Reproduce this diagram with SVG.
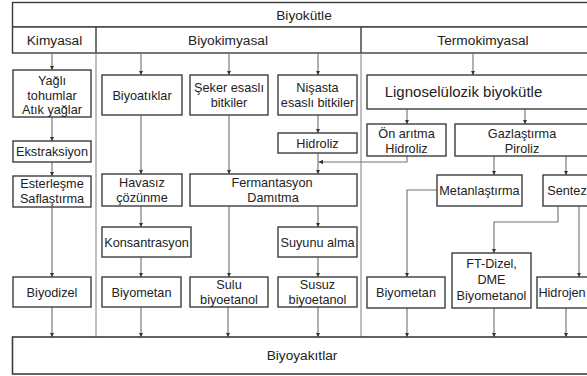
<svg xmlns="http://www.w3.org/2000/svg" width="587" height="376" viewBox="0 0 587 376">
<style>
.b{fill:#fff;stroke:#3c3c3c;stroke-width:1.4}
.t{font-family:"Liberation Sans",Arial,sans-serif;font-size:12.7px;fill:#222;text-anchor:middle}
.h{font-size:13.7px}
.c{fill:none;stroke:#707070;stroke-width:1.1}
.d{fill:none;stroke:#8a8a8a;stroke-width:1.1}
</style>
<defs>
<marker id="a" viewBox="0 0 6 6" refX="6" refY="3" markerWidth="4.5" markerHeight="4.5" orient="auto" markerUnits="userSpaceOnUse">
<path d="M0,0 L6,3 L0,6 Z" fill="#333"/>
</marker>
</defs>
<rect width="587" height="376" fill="#fff"/>
<g id="header">
<rect class="b" x="12.5" y="2.5" width="600" height="24.5"/>
<text class="t h" x="304" y="19.5">Biyokütle</text>
<rect class="b" x="12.5" y="27" width="600" height="26"/>
<line class="b" x1="96" y1="27" x2="96" y2="53"/>
<line class="b" x1="361" y1="27" x2="361" y2="53"/>
<text class="t h" x="54.5" y="45">Kimyasal</text>
<text class="t h" x="228" y="45">Biyokimyasal</text>
<text class="t h" x="483" y="45">Termokimyasal</text>
</g>
<g id="dividers">
<line class="d" x1="96" y1="53" x2="96" y2="337"/>
<line class="d" x1="361" y1="53" x2="361" y2="337"/>
</g>
<g id="connectors">
<line class="c" x1="52" y1="53" x2="52" y2="70" marker-end="url(#a)"/>
<line class="c" x1="141" y1="53" x2="141" y2="75" marker-end="url(#a)"/>
<line class="c" x1="229" y1="53" x2="229" y2="75" marker-end="url(#a)"/>
<line class="c" x1="318" y1="53" x2="318" y2="75" marker-end="url(#a)"/>
<line class="c" x1="473" y1="53" x2="473" y2="75" marker-end="url(#a)"/>
<line class="c" x1="52" y1="117" x2="52" y2="141" marker-end="url(#a)"/>
<line class="c" x1="52" y1="162" x2="52" y2="176" marker-end="url(#a)"/>
<line class="c" x1="52" y1="207" x2="52" y2="277" marker-end="url(#a)"/>
<line class="c" x1="141" y1="115" x2="141" y2="174" marker-end="url(#a)"/>
<line class="c" x1="141" y1="206" x2="141" y2="227" marker-end="url(#a)"/>
<line class="c" x1="141" y1="257" x2="141" y2="277" marker-end="url(#a)"/>
<line class="c" x1="229" y1="115" x2="229" y2="174" marker-end="url(#a)"/>
<line class="c" x1="229" y1="206" x2="229" y2="277" marker-end="url(#a)"/>
<line class="c" x1="318" y1="115" x2="318" y2="133" marker-end="url(#a)"/>
<line class="c" x1="318" y1="153" x2="318" y2="174" marker-end="url(#a)"/>
<polyline class="c" points="407,156 407,162 318.5,162" marker-end="url(#a)"/>
<line class="c" x1="318" y1="206" x2="318" y2="227" marker-end="url(#a)"/>
<line class="c" x1="318" y1="257" x2="318" y2="277" marker-end="url(#a)"/>
<line class="c" x1="407" y1="109" x2="407" y2="124" marker-end="url(#a)"/>
<line class="c" x1="525" y1="109" x2="525" y2="124" marker-end="url(#a)"/>
<line class="c" x1="494" y1="156" x2="494" y2="175" marker-end="url(#a)"/>
<line class="c" x1="566" y1="156" x2="566" y2="175" marker-end="url(#a)"/>
<polyline class="c" points="437,190 407,190 407,277" marker-end="url(#a)"/>
<polyline class="c" points="558,206 558,222 494,222 494,253" marker-end="url(#a)"/>
<line class="c" x1="579" y1="206" x2="579" y2="277" marker-end="url(#a)"/>
<line class="c" x1="52" y1="307" x2="52" y2="337" marker-end="url(#a)"/>
<line class="c" x1="141" y1="307" x2="141" y2="337" marker-end="url(#a)"/>
<line class="c" x1="228" y1="307" x2="228" y2="337" marker-end="url(#a)"/>
<line class="c" x1="318" y1="307" x2="318" y2="337" marker-end="url(#a)"/>
<line class="c" x1="407" y1="308" x2="407" y2="337" marker-end="url(#a)"/>
<line class="c" x1="494" y1="308" x2="494" y2="337" marker-end="url(#a)"/>
<line class="c" x1="566" y1="308" x2="566" y2="337" marker-end="url(#a)"/>
</g>
<g id="yagli"><rect class="b" x="13" y="70" width="78" height="47"/><text class="t" x="52" y="84.5">Yağlı</text><text class="t" x="52" y="99.5">tohumlar</text><text class="t" x="52" y="114">Atık yağlar</text></g>
<g id="ekstraksiyon"><rect class="b" x="13" y="141" width="78" height="21"/><text class="t" x="52" y="156">Ekstraksiyon</text></g>
<g id="esterlesme"><rect class="b" x="13" y="176" width="78" height="31"/><text class="t" x="52" y="187.5">Esterleşme</text><text class="t" x="52" y="203">Saflaştırma</text></g>
<g id="biyodizel"><rect class="b" x="13" y="277" width="78" height="30"/><text class="t" x="52" y="296.5">Biyodizel</text></g>
<g id="biyoatiklar"><rect class="b" x="102" y="75" width="80" height="40"/><text class="t" x="142" y="99.5">Biyoatıklar</text></g>
<g id="seker"><rect class="b" x="190" y="75" width="78" height="40"/><text class="t" x="229" y="92">Şeker esaslı</text><text class="t" x="229" y="107">bitkiler</text></g>
<g id="nisasta"><rect class="b" x="278" y="75" width="79" height="40"/><text class="t" x="317.5" y="92">Nişasta</text><text class="t" x="317.5" y="107">esaslı bitkiler</text></g>
<g id="hidroliz"><rect class="b" x="278" y="133" width="79" height="20"/><text class="t" x="317.5" y="147.5">Hidroliz</text></g>
<g id="havasiz"><rect class="b" x="102" y="174" width="80" height="32"/><text class="t" x="142" y="187">Havasız</text><text class="t" x="142" y="202">çözünme</text></g>
<g id="fermantasyon"><rect class="b" x="190" y="174" width="167" height="32"/><text class="t" x="272" y="187">Fermantasyon</text><text class="t" x="273" y="202">Damıtma</text></g>
<g id="konsantrasyon"><rect class="b" x="102" y="227" width="89" height="30"/><text class="t" x="146.5" y="246.5">Konsantrasyon</text></g>
<g id="suyunu"><rect class="b" x="278" y="227" width="79" height="30"/><text class="t" x="317.5" y="246.5">Suyunu alma</text></g>
<g id="biyometan1"><rect class="b" x="102" y="277" width="79" height="30"/><text class="t" x="141.5" y="296.5">Biyometan</text></g>
<g id="sulu"><rect class="b" x="190" y="277" width="78" height="30"/><text class="t" x="229" y="288.5">Sulu</text><text class="t" x="229" y="303.5">biyoetanol</text></g>
<g id="susuz"><rect class="b" x="278" y="277" width="79" height="30"/><text class="t" x="317.5" y="288.5">Susuz</text><text class="t" x="317.5" y="303.5">biyoetanol</text></g>
<g id="lignoselulozik"><rect class="b" x="367" y="75" width="240" height="34"/><text class="t" x="463.5" y="97" style="font-size:15px">Lignoselülozik biyokütle</text></g>
<g id="onaritma"><rect class="b" x="367" y="124" width="79" height="32"/><text class="t" x="406.5" y="137.5">Ön arıtma</text><text class="t" x="406.5" y="152.5">Hidroliz</text></g>
<g id="gazlastirma"><rect class="b" x="455" y="124" width="150" height="32"/><text class="t" x="522" y="137.5">Gazlaştırma</text><text class="t" x="522" y="152.5">Piroliz</text></g>
<g id="metanlastirma"><rect class="b" x="437" y="175" width="85" height="31"/><text class="t" x="479.5" y="195">Metanlaştırma</text></g>
<g id="sentez"><rect class="b" x="543" y="175" width="60" height="31"/><text class="t" x="567" y="195">Sentez</text></g>
<g id="biyometan2"><rect class="b" x="367" y="277" width="78" height="31"/><text class="t" x="406" y="296.5">Biyometan</text></g>
<g id="ftdizel"><rect class="b" x="452" y="253" width="79" height="55"/><text class="t" x="491.5" y="268">FT-Dizel,</text><text class="t" x="491.5" y="284">DME</text><text class="t" x="491.5" y="300">Biyometanol</text></g>
<g id="hidrojen"><rect class="b" x="537" y="277" width="60" height="31"/><text class="t" x="562" y="296.5">Hidrojen</text></g>
<g id="biyoyakitlar"><rect class="b" x="12.5" y="337" width="600" height="37" style="stroke-width:1.6"/><text class="t h" x="302" y="360">Biyoyakıtlar</text></g>
</svg>
